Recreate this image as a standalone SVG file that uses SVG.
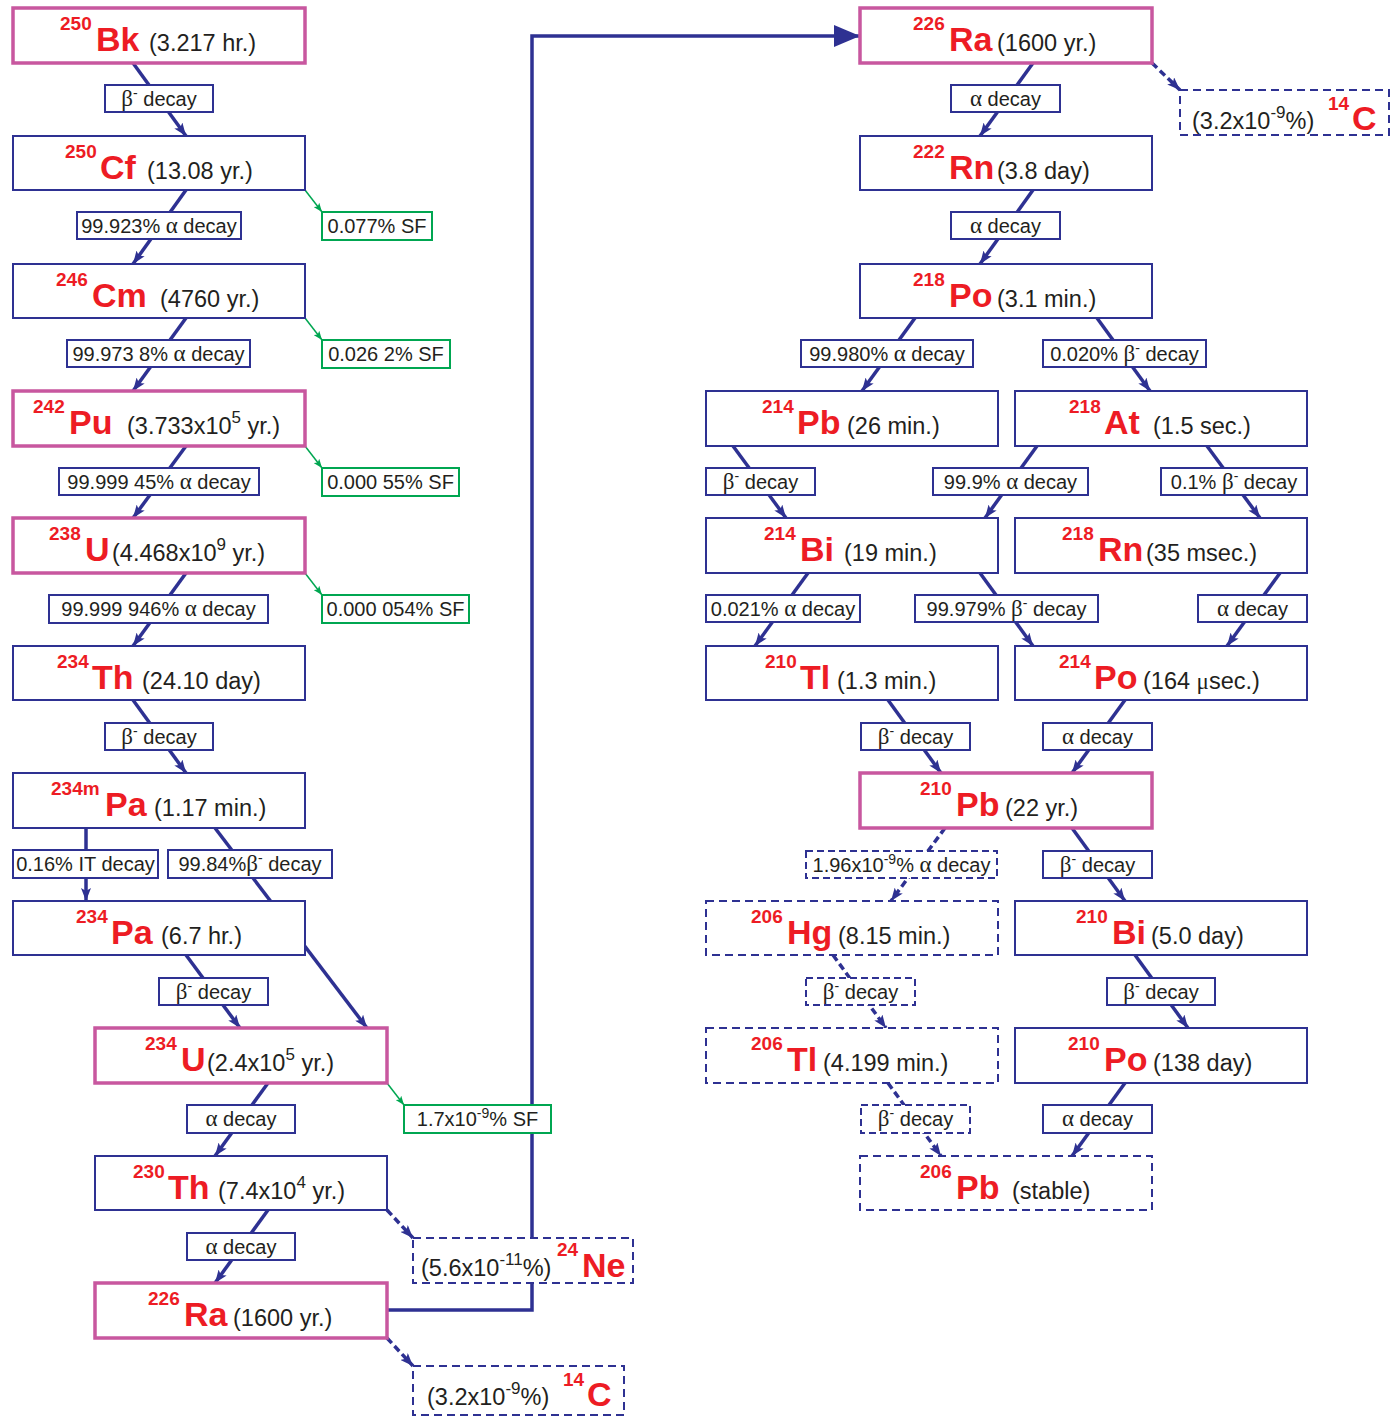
<svg xmlns="http://www.w3.org/2000/svg" width="1395" height="1420" viewBox="0 0 1395 1420">
<defs>
<style>
.nb{fill:#fff;stroke:#2e3192;stroke-width:2}
.np{fill:#fff;stroke:#c8579f;stroke-width:3.5}
.nd{fill:#fff;stroke:#2e3192;stroke-width:2;stroke-dasharray:8 5}
.lb{fill:#fff;stroke:#2e3192;stroke-width:2}
.lg{fill:#fff;stroke:#00a651;stroke-width:2}
.ld{fill:#fff;stroke:#2e3192;stroke-width:2;stroke-dasharray:7 4}
.t{font-family:"Liberation Sans",Arial,sans-serif;font-size:20px;fill:#231f20;text-anchor:middle}
.sup{font-family:"Liberation Sans",Arial,sans-serif;font-weight:bold;font-size:19px;fill:#ed1c24}
.sym{font-family:"Liberation Sans",Arial,sans-serif;font-weight:bold;font-size:34px;fill:#ed1c24}
.hl{font-family:"Liberation Sans",Arial,sans-serif;font-size:23.5px;fill:#231f20}
.g{font-family:"Liberation Serif","Times New Roman",serif;font-size:23px}
.c{stroke:#2e3192;stroke-width:3.5;fill:none;marker-end:url(#ah)}
.cd{stroke:#2e3192;stroke-width:3.5;fill:none;stroke-dasharray:7 4;marker-end:url(#ah)}
.cg{stroke:#00a651;stroke-width:1.5;fill:none;marker-end:url(#ag)}
.big{stroke:#2e3192;stroke-width:3.5;fill:none;marker-end:url(#ab)}
</style>
<marker id="ah" viewBox="0 0 13 10" refX="13" refY="5" markerWidth="13" markerHeight="10" markerUnits="userSpaceOnUse" orient="auto"><path d="M0,0 L13,5 L0,10 L3,5 z" fill="#2e3192"/></marker>
<marker id="ag" viewBox="0 0 9 7" refX="9" refY="3.5" markerWidth="9" markerHeight="7" markerUnits="userSpaceOnUse" orient="auto"><path d="M0,0 L9,3.5 L0,7 L2,3.5 z" fill="#00a651"/></marker>
<marker id="ab" viewBox="0 0 26 22" refX="26" refY="11" markerWidth="26" markerHeight="22" markerUnits="userSpaceOnUse" orient="auto"><path d="M0,0 L26,11 L0,22 z" fill="#2e3192"/></marker>
</defs>
<rect width="1395" height="1420" fill="#fff"/>

<g id="connectors">
<line class="c" x1="133" y1="63" x2="186" y2="136"/>
<line class="c" x1="186" y1="190" x2="133" y2="264"/>
<line class="cg" x1="305" y1="190" x2="322" y2="212"/>
<line class="c" x1="186" y1="318" x2="133" y2="391"/>
<line class="cg" x1="305" y1="318" x2="322" y2="340"/>
<line class="c" x1="186" y1="446" x2="133" y2="518"/>
<line class="cg" x1="305" y1="446" x2="322" y2="468"/>
<line class="c" x1="186" y1="573" x2="133" y2="646"/>
<line class="cg" x1="305" y1="573" x2="322" y2="595"/>
<line class="c" x1="133" y1="700" x2="186" y2="773"/>
<line class="c" x1="86" y1="828" x2="86" y2="901"/>
<line class="c" x1="215" y1="828" x2="367" y2="1028"/>
<line class="c" x1="186" y1="955" x2="240" y2="1028"/>
<line class="c" x1="268" y1="1083" x2="215" y2="1156"/>
<line class="cg" x1="387" y1="1083" x2="404" y2="1105"/>
<line class="c" x1="268" y1="1210" x2="215" y2="1283"/>
<line class="cd" x1="387" y1="1210" x2="413" y2="1238"/>
<line class="cd" x1="387" y1="1338" x2="413" y2="1366"/>
<path class="big" d="M387,1310 H532 V36 H860"/>
<line class="c" x1="1033" y1="63" x2="980" y2="136"/>
<line class="cd" x1="1152" y1="63" x2="1180" y2="90"/>
<line class="c" x1="1033" y1="190" x2="980" y2="264"/>
<line class="c" x1="915" y1="318" x2="862" y2="391"/>
<line class="c" x1="1097" y1="318" x2="1150" y2="391"/>
<line class="c" x1="733" y1="446" x2="786" y2="518"/>
<line class="c" x1="1037" y1="446" x2="985" y2="518"/>
<line class="c" x1="1207" y1="446" x2="1260" y2="518"/>
<line class="c" x1="808" y1="573" x2="755" y2="646"/>
<line class="c" x1="980" y1="573" x2="1033" y2="646"/>
<line class="c" x1="1280" y1="573" x2="1227" y2="646"/>
<line class="c" x1="888" y1="700" x2="941" y2="773"/>
<line class="c" x1="1125" y1="700" x2="1072" y2="773"/>
<line class="cd" x1="945" y1="828" x2="891" y2="901"/>
<line class="c" x1="1072" y1="828" x2="1125" y2="901"/>
<line class="cd" x1="833" y1="955" x2="886" y2="1028"/>
<line class="c" x1="1135" y1="955" x2="1188" y2="1028"/>
<line class="cd" x1="888" y1="1083" x2="941" y2="1156"/>
<line class="c" x1="1125" y1="1083" x2="1072" y2="1156"/>

<g id="labels">
<rect class="lb" x="105" y="85" width="108" height="27"/><text class="t" x="159" y="105.5"><tspan class="g">β</tspan><tspan dy="-8" font-size="14">-</tspan><tspan dy="8"> decay</tspan></text>
<rect class="lb" x="77" y="212" width="164" height="27"/><text class="t" x="159" y="232.5">99.923% <tspan class="g">α</tspan> decay</text>
<rect class="lg" x="322" y="212" width="110" height="28"/><text class="t" x="377" y="233">0.077% SF</text>
<rect class="lb" x="67" y="340" width="183" height="27"/><text class="t" x="158.5" y="360.5">99.973 8% <tspan class="g">α</tspan> decay</text>
<rect class="lg" x="322" y="340" width="128" height="28"/><text class="t" x="386" y="361">0.026 2% SF</text>
<rect class="lb" x="59" y="468" width="200" height="27"/><text class="t" x="159" y="488.5">99.999 45% <tspan class="g">α</tspan> decay</text>
<rect class="lg" x="322" y="468" width="137" height="28"/><text class="t" x="390.5" y="489">0.000 55% SF</text>
<rect class="lb" x="49" y="595" width="219" height="28"/><text class="t" x="158.5" y="616">99.999 946% <tspan class="g">α</tspan> decay</text>
<rect class="lg" x="322" y="595" width="147" height="28"/><text class="t" x="395.5" y="616">0.000 054% SF</text>
<rect class="lb" x="105" y="723" width="108" height="27"/><text class="t" x="159" y="743.5"><tspan class="g">β</tspan><tspan dy="-8" font-size="14">-</tspan><tspan dy="8"> decay</tspan></text>
<rect class="lb" x="13" y="850" width="145" height="28"/><text class="t" x="85.5" y="871">0.16% IT decay</text>
<rect class="lb" x="168" y="850" width="164" height="28"/><text class="t" x="250" y="871">99.84%<tspan class="g">β</tspan><tspan dy="-8" font-size="14">-</tspan><tspan dy="8"> decay</tspan></text>
<rect class="lb" x="159" y="978" width="109" height="27"/><text class="t" x="213.5" y="998.5"><tspan class="g">β</tspan><tspan dy="-8" font-size="14">-</tspan><tspan dy="8"> decay</tspan></text>
<rect class="lb" x="187" y="1105" width="108" height="28"/><text class="t" x="241" y="1126"><tspan class="g">α</tspan> decay</text>
<rect class="lg" x="404" y="1105" width="147" height="28"/><text class="t" x="477.5" y="1126">1.7x10<tspan dy="-8" font-size="14">-9</tspan><tspan dy="8">% SF</tspan></text>
<rect class="lb" x="187" y="1233" width="108" height="27"/><text class="t" x="241" y="1253.5"><tspan class="g">α</tspan> decay</text>

<rect class="lb" x="951" y="85" width="109" height="27"/><text class="t" x="1005.5" y="105.5"><tspan class="g">α</tspan> decay</text>
<rect class="lb" x="951" y="212" width="109" height="27"/><text class="t" x="1005.5" y="232.5"><tspan class="g">α</tspan> decay</text>
<rect class="lb" x="801" y="340" width="172" height="27"/><text class="t" x="887" y="360.5">99.980% <tspan class="g">α</tspan> decay</text>
<rect class="lb" x="1043" y="340" width="163" height="27"/><text class="t" x="1124.5" y="360.5">0.020% <tspan class="g">β</tspan><tspan dy="-8" font-size="14">-</tspan><tspan dy="8"> decay</tspan></text>
<rect class="lb" x="706" y="468" width="109" height="27"/><text class="t" x="760.5" y="488.5"><tspan class="g">β</tspan><tspan dy="-8" font-size="14">-</tspan><tspan dy="8"> decay</tspan></text>
<rect class="lb" x="933" y="468" width="155" height="27"/><text class="t" x="1010.5" y="488.5">99.9% <tspan class="g">α</tspan> decay</text>
<rect class="lb" x="1161" y="468" width="146" height="27"/><text class="t" x="1234" y="488.5">0.1% <tspan class="g">β</tspan><tspan dy="-8" font-size="14">-</tspan><tspan dy="8"> decay</tspan></text>
<rect class="lb" x="706" y="595" width="154" height="27"/><text class="t" x="783" y="615.5">0.021% <tspan class="g">α</tspan> decay</text>
<rect class="lb" x="915" y="595" width="183" height="27"/><text class="t" x="1006.5" y="615.5">99.979% <tspan class="g">β</tspan><tspan dy="-8" font-size="14">-</tspan><tspan dy="8"> decay</tspan></text>
<rect class="lb" x="1198" y="595" width="109" height="27"/><text class="t" x="1252.5" y="615.5"><tspan class="g">α</tspan> decay</text>
<rect class="lb" x="861" y="723" width="109" height="27"/><text class="t" x="915.5" y="743.5"><tspan class="g">β</tspan><tspan dy="-8" font-size="14">-</tspan><tspan dy="8"> decay</tspan></text>
<rect class="lb" x="1043" y="723" width="109" height="27"/><text class="t" x="1097.5" y="743.5"><tspan class="g">α</tspan> decay</text>
<rect class="ld" x="806" y="851" width="191" height="27"/><text class="t" x="901.5" y="871.5">1.96x10<tspan dy="-8" font-size="14">-9</tspan><tspan dy="8">% </tspan><tspan class="g">α</tspan> decay</text>
<rect class="lb" x="1043" y="851" width="109" height="27"/><text class="t" x="1097.5" y="871.5"><tspan class="g">β</tspan><tspan dy="-8" font-size="14">-</tspan><tspan dy="8"> decay</tspan></text>
<rect class="ld" x="806" y="978" width="109" height="27"/><text class="t" x="860.5" y="998.5"><tspan class="g">β</tspan><tspan dy="-8" font-size="14">-</tspan><tspan dy="8"> decay</tspan></text>
<rect class="lb" x="1107" y="978" width="108" height="27"/><text class="t" x="1161" y="998.5"><tspan class="g">β</tspan><tspan dy="-8" font-size="14">-</tspan><tspan dy="8"> decay</tspan></text>
<rect class="ld" x="861" y="1105" width="109" height="28"/><text class="t" x="915.5" y="1126"><tspan class="g">β</tspan><tspan dy="-8" font-size="14">-</tspan><tspan dy="8"> decay</tspan></text>
<rect class="lb" x="1043" y="1105" width="109" height="28"/><text class="t" x="1097.5" y="1126"><tspan class="g">α</tspan> decay</text>
</g>
</g>

<g id="bk250"><rect class="np" x="13" y="8" width="292" height="55"/><text class="sup" x="60" y="30">250</text><text class="sym" x="96" y="50.5">Bk</text><text class="hl" x="149" y="50.5">(3.217 hr.)</text></g>
<g id="cf250"><rect class="nb" x="13" y="136" width="292" height="54"/><text class="sup" x="65" y="158">250</text><text class="sym" x="100" y="178.5">Cf</text><text class="hl" x="147" y="178.5">(13.08 yr.)</text></g>
<g id="cm246"><rect class="nb" x="13" y="264" width="292" height="54"/><text class="sup" x="56" y="286">246</text><text class="sym" x="92" y="306.5">Cm</text><text class="hl" x="160" y="306.5">(4760 yr.)</text></g>
<g id="pu242"><rect class="np" x="13" y="391" width="292" height="55"/><text class="sup" x="33" y="413">242</text><text class="sym" x="69" y="433.5">Pu</text><text class="hl" x="127" y="433.5">(3.733x10<tspan dy="-11" font-size="17">5</tspan><tspan dy="11"> yr.)</tspan></text></g>
<g id="u238"><rect class="np" x="13" y="518" width="292" height="55"/><text class="sup" x="49" y="540">238</text><text class="sym" x="85" y="560.5">U</text><text class="hl" x="112" y="560.5">(4.468x10<tspan dy="-11" font-size="17">9</tspan><tspan dy="11"> yr.)</tspan></text></g>
<g id="th234"><rect class="nb" x="13" y="646" width="292" height="54"/><text class="sup" x="57" y="668">234</text><text class="sym" x="92" y="688.5">Th</text><text class="hl" x="142" y="688.5">(24.10 day)</text></g>
<g id="pa234m"><rect class="nb" x="13" y="773" width="292" height="55"/><text class="sup" x="51" y="795">234m</text><text class="sym" x="105" y="815.5">Pa</text><text class="hl" x="154" y="815.5">(1.17 min.)</text></g>
<g id="pa234"><rect class="nb" x="13" y="901" width="292" height="54"/><text class="sup" x="76" y="923">234</text><text class="sym" x="111" y="943.5">Pa</text><text class="hl" x="161" y="943.5">(6.7 hr.)</text></g>
<g id="u234"><rect class="np" x="95" y="1028" width="292" height="55"/><text class="sup" x="145" y="1050">234</text><text class="sym" x="181" y="1070.5">U</text><text class="hl" x="207" y="1070.5">(2.4x10<tspan dy="-11" font-size="17">5</tspan><tspan dy="11"> yr.)</tspan></text></g>
<g id="th230"><rect class="nb" x="95" y="1156" width="292" height="54"/><text class="sup" x="133" y="1178">230</text><text class="sym" x="168" y="1198.5">Th</text><text class="hl" x="218" y="1198.5">(7.4x10<tspan dy="-11" font-size="17">4</tspan><tspan dy="11"> yr.)</tspan></text></g>
<g id="ra226a"><rect class="np" x="95" y="1283" width="292" height="55"/><text class="sup" x="148" y="1305">226</text><text class="sym" x="184" y="1325.5">Ra</text><text class="hl" x="233" y="1325.5">(1600 yr.)</text></g>
<g id="ne24"><rect class="nd" x="413" y="1238" width="220" height="45"/><text class="hl" x="421" y="1276">(5.6x10<tspan dy="-11" font-size="17">-11</tspan><tspan dy="11">%)</tspan></text><text class="sup" x="557" y="1256">24</text><text class="sym" x="582" y="1277">Ne</text></g>
<g id="c14a"><rect class="nd" x="413" y="1366" width="211" height="49"/><text class="hl" x="427" y="1405">(3.2x10<tspan dy="-11" font-size="17">-9</tspan><tspan dy="11">%)</tspan></text><text class="sup" x="563" y="1386">14</text><text class="sym" x="587" y="1406">C</text></g>

<g id="ra226b"><rect class="np" x="860" y="8" width="292" height="55"/><text class="sup" x="913" y="30">226</text><text class="sym" x="949" y="50.5">Ra</text><text class="hl" x="997" y="50.5">(1600 yr.)</text></g>
<g id="c14b"><rect class="nd" x="1180" y="90" width="209" height="45"/><text class="hl" x="1192" y="129">(3.2x10<tspan dy="-11" font-size="17">-9</tspan><tspan dy="11">%)</tspan></text><text class="sup" x="1328" y="110">14</text><text class="sym" x="1352" y="130">C</text></g>
<g id="rn222"><rect class="nb" x="860" y="136" width="292" height="54"/><text class="sup" x="913" y="158">222</text><text class="sym" x="949" y="178.5">Rn</text><text class="hl" x="997" y="178.5">(3.8 day)</text></g>
<g id="po218"><rect class="nb" x="860" y="264" width="292" height="54"/><text class="sup" x="913" y="286">218</text><text class="sym" x="949" y="306.5">Po</text><text class="hl" x="997" y="306.5">(3.1 min.)</text></g>
<g id="pb214"><rect class="nb" x="706" y="391" width="292" height="55"/><text class="sup" x="762" y="413">214</text><text class="sym" x="797" y="433.5">Pb</text><text class="hl" x="847" y="433.5">(26 min.)</text></g>
<g id="at218"><rect class="nb" x="1015" y="391" width="292" height="55"/><text class="sup" x="1069" y="413">218</text><text class="sym" x="1104" y="433.5">At</text><text class="hl" x="1153" y="433.5">(1.5 sec.)</text></g>
<g id="bi214"><rect class="nb" x="706" y="518" width="292" height="55"/><text class="sup" x="764" y="540">214</text><text class="sym" x="800" y="560.5">Bi</text><text class="hl" x="844" y="560.5">(19 min.)</text></g>
<g id="rn218"><rect class="nb" x="1015" y="518" width="292" height="55"/><text class="sup" x="1062" y="540">218</text><text class="sym" x="1098" y="560.5">Rn</text><text class="hl" x="1146" y="560.5">(35 msec.)</text></g>
<g id="tl210"><rect class="nb" x="706" y="646" width="292" height="54"/><text class="sup" x="765" y="668">210</text><text class="sym" x="800" y="688.5">Tl</text><text class="hl" x="837" y="688.5">(1.3 min.)</text></g>
<g id="po214"><rect class="nb" x="1015" y="646" width="292" height="54"/><text class="sup" x="1059" y="668">214</text><text class="sym" x="1094" y="688.5">Po</text><text class="hl" x="1143" y="688.5">(164 <tspan class="g">μ</tspan>sec.)</text></g>
<g id="pb210"><rect class="np" x="860" y="773" width="292" height="55"/><text class="sup" x="920" y="795">210</text><text class="sym" x="956" y="815.5">Pb</text><text class="hl" x="1005" y="815.5">(22 yr.)</text></g>
<g id="hg206"><rect class="nd" x="706" y="901" width="292" height="54"/><text class="sup" x="751" y="923">206</text><text class="sym" x="787" y="943.5">Hg</text><text class="hl" x="838" y="943.5">(8.15 min.)</text></g>
<g id="bi210"><rect class="nb" x="1015" y="901" width="292" height="54"/><text class="sup" x="1076" y="923">210</text><text class="sym" x="1112" y="943.5">Bi</text><text class="hl" x="1151" y="943.5">(5.0 day)</text></g>
<g id="tl206"><rect class="nd" x="706" y="1028" width="292" height="55"/><text class="sup" x="751" y="1050">206</text><text class="sym" x="787" y="1070.5">Tl</text><text class="hl" x="823" y="1070.5">(4.199 min.)</text></g>
<g id="po210"><rect class="nb" x="1015" y="1028" width="292" height="55"/><text class="sup" x="1068" y="1050">210</text><text class="sym" x="1104" y="1070.5">Po</text><text class="hl" x="1153" y="1070.5">(138 day)</text></g>
<g id="pb206"><rect class="nd" x="860" y="1156" width="292" height="54"/><text class="sup" x="920" y="1178">206</text><text class="sym" x="956" y="1198.5">Pb</text><text class="hl" x="1012" y="1198.5">(stable)</text></g>
</svg>
